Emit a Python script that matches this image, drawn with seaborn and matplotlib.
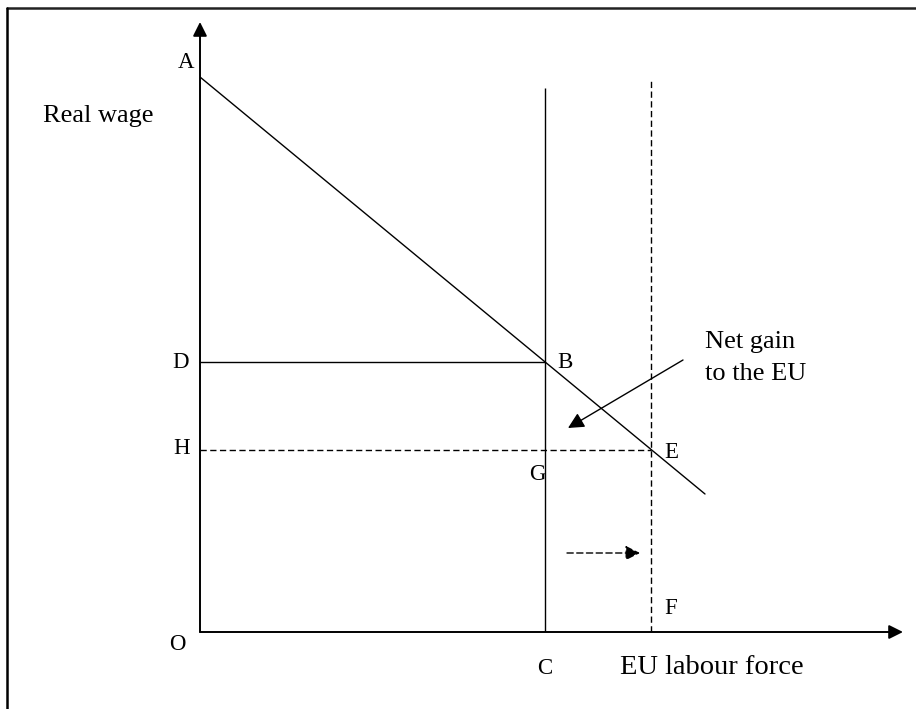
import matplotlib
matplotlib.use("Agg")
import matplotlib.pyplot as plt
from matplotlib.lines import Line2D
import seaborn as sns
import pandas as pd

# diagram values (labour force along x, real wage along y)
demand_x = [0, 50.5]
demand_y = [55.5, 13.8]
labour_before = 34.5     # C
labour_after = 45.1      # F
wage_before = 27.0       # D / B
wage_after = 18.2        # H / E
supply_top_before = 54.4
supply_top_after = 55.2
x_max, y_max = 71.6, 63.2

point_labels = ["A", "D", "H", "O", "B", "E", "G", "F", "C"]
point_pos = [(-1.4, 57.0), (-1.9, 27.0), (-1.8, 18.4), (-2.3, -1.2),
             (36.5, 27.0), (47.1, 18.0), (33.7, 15.8), (47.1, 2.3), (34.5, -3.6)]

sns.set_theme(style="white")
plt.rcParams["font.family"] = ["Liberation Serif", "DejaVu Serif"]
plt.rcParams["text.color"] = "black"

fig = plt.figure(figsize=(9.16, 7.09), dpi=100)
ax = fig.add_axes([200 / 916, 77 / 709, 716 / 916, 632 / 709])
ax.set_xlim(0, x_max)
ax.set_ylim(0, y_max)
ax.axis("off")

# demand curve
df = pd.DataFrame({"labour": demand_x, "wage": demand_y})
sns.lineplot(data=df, x="labour", y="wage", ax=ax, color="black", lw=1.0)

# axes with arrows
arrow_kw = dict(arrowstyle="-|>", color="black", lw=1.4, mutation_scale=21, shrinkA=0, shrinkB=0)
ax.annotate("", xy=(0, 61.0), xytext=(0, 0), arrowprops=arrow_kw, annotation_clip=False)
ax.annotate("", xy=(70.3, 0), xytext=(0, 0), arrowprops=arrow_kw, annotation_clip=False)

dash = (0, (4.5, 2.5))
ax.vlines(labour_before, 0, supply_top_before, color="black", lw=1.0)
ax.vlines(labour_after, 0, supply_top_after, color="black", lw=1.0, linestyles=[dash])
ax.hlines(wage_before, 0, labour_before, color="black", lw=1.0)
ax.hlines(wage_after, 0, labour_after, color="black", lw=1.0, linestyles=[dash])

# net gain pointer
ax.annotate("", xy=(36.8, 20.4), xytext=(48.3, 27.2),
            arrowprops=dict(arrowstyle="-|>", color="black", lw=1.0,
                            mutation_scale=24, shrinkA=0, shrinkB=0))
# shift of supply
ax.annotate("", xy=(44.0, 7.9), xytext=(36.7, 7.9),
            arrowprops=dict(arrowstyle="-|>", color="black", lw=1.0, ls=(0, (4.5, 2.5)),
                            mutation_scale=22, shrinkA=0, shrinkB=0))

for lab, (px, py) in zip(point_labels, point_pos):
    ax.text(px, py, lab, fontsize=16.5, ha="center", va="center", clip_on=False)

ax.text(-15.7, 51.6, "Real wage", fontsize=19, ha="left", va="center", clip_on=False)
ax.text(42.0, -3.6, "EU labour force", fontsize=20.5, ha="left", va="center", clip_on=False)
ax.text(50.5, 29.0, "Net gain", fontsize=19, ha="left", va="center", clip_on=False)
ax.text(50.5, 25.8, "to the EU", fontsize=19, ha="left", va="center", clip_on=False)

# frame (only top and left edges visible)
fig.add_artist(Line2D([7 / 916, 1.0], [1 - 8 / 709, 1 - 8 / 709], color="#222222", lw=1.8))
fig.add_artist(Line2D([7 / 916, 7 / 916], [0, 1 - 8 / 709], color="black", lw=1.8))

fig.savefig("out.png", dpi=100)
